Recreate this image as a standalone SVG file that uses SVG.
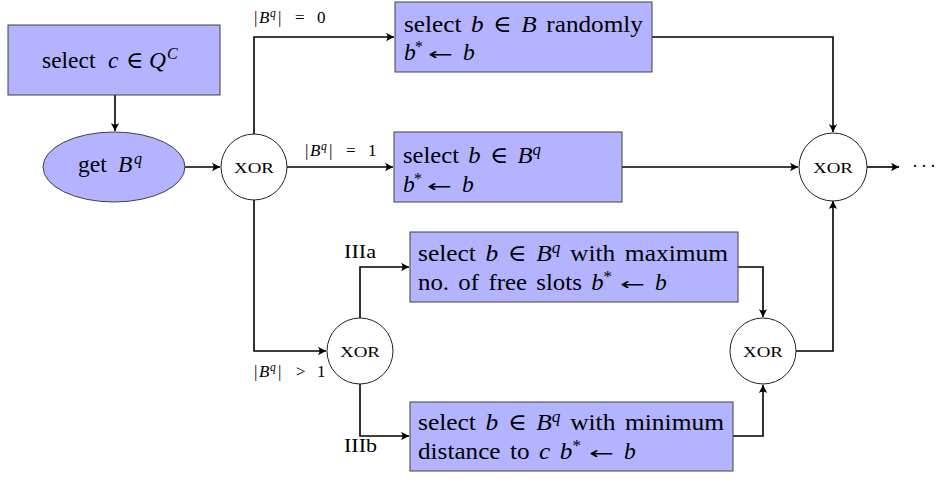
<svg xmlns="http://www.w3.org/2000/svg" width="939" height="479" viewBox="0 0 939 479" font-family="'Liberation Serif', 'DejaVu Serif', serif">
<defs>
<marker id="arr" markerUnits="userSpaceOnUse" markerWidth="12" markerHeight="12" viewBox="-9 -6 12 12" refX="0" refY="0" orient="auto">
<path d="M0,0 L-8,-4.2 Q-5,0 -8,4.2 Z" fill="#000"/>
</marker>
</defs>
<style>
.box{fill:#b3b3ff;stroke:#404040;stroke-width:1}
.xor{fill:#fff;stroke:#202020;stroke-width:1}
.c{fill:none;stroke:#000;stroke-width:1.6}
.a{marker-end:url(#arr)}
text{font-family:'Liberation Serif','DejaVu Serif',serif;fill:#000}
.t{font-size:23.5px;word-spacing:3px}
.l{font-size:17px}
.x{font-size:15px;text-anchor:middle}
.m{font-style:italic}
.s{font-size:16px}
.ls{font-size:11.5px;font-style:italic}
text.ar{font-family:'DejaVu Sans',sans-serif;font-size:17px}
</style>
<rect width="939" height="479" fill="#fff"/>
<g id="connectors">
<path class="c a" d="M115,95 V131"/>
<path class="c a" d="M185,167 H220"/>
<path class="c a" d="M254,134 V37 H394"/>
<path class="c a" d="M287,167 H393"/>
<path class="c a" d="M254,200 V351 H326"/>
<path class="c a" d="M652,37 H833 V132"/>
<path class="c a" d="M622,167 H798"/>
<path class="c a" d="M867,167 H899"/>
<path class="c a" d="M360,318 V267 H409"/>
<path class="c a" d="M360,384 V436 H409"/>
<path class="c a" d="M738,267 H763 V317"/>
<path class="c a" d="M733,436 H763 V385"/>
<path class="c a" d="M796,351 H833 V201"/>
</g>
<g id="n1">
<rect class="box" x="8" y="25" width="212" height="70"/>
<text class="t" y="68"><tspan x="42">select</tspan><tspan x="108" class="m">c</tspan><tspan x="126">∈</tspan><tspan x="149" class="m">Q</tspan><tspan x="167" dy="-9" class="m s">C</tspan></text>
</g>
<g id="n2">
<ellipse class="box" cx="114" cy="167" rx="71" ry="35"/>
<text class="t" y="172"><tspan x="78">get</tspan><tspan x="118" class="m">B</tspan><tspan x="134" dy="-8" class="m s">q</tspan></text>
</g>
<g id="xor1">
<circle class="xor" cx="254" cy="167" r="33"/>
<text class="x" x="254" y="173" textLength="40" lengthAdjust="spacingAndGlyphs">XOR</text>
</g>
<g id="n3">
<rect class="box" x="395" y="2" width="257" height="70"/>
<text class="t" x="404" y="32" textLength="239" lengthAdjust="spacingAndGlyphs">select <tspan class="m">b</tspan> ∈ <tspan class="m">B</tspan> randomly</text>
<text class="t" y="60"><tspan x="404" class="m">b</tspan><tspan x="415" dy="-8" class="s">*</tspan></text>
<text class="ar" transform="translate(428,60) scale(1.75,1)">←</text>
<text class="t m" x="463" y="60">b</text>
</g>
<g id="n4">
<rect class="box" x="394" y="132" width="228" height="70"/>
<text class="t" x="403" y="163" textLength="138" lengthAdjust="spacingAndGlyphs">select <tspan class="m">b</tspan> ∈ <tspan class="m">B</tspan><tspan class="m s" dy="-8">q</tspan></text>
<text class="t" y="192"><tspan x="403" class="m">b</tspan><tspan x="414" dy="-8" class="s">*</tspan></text>
<text class="ar" transform="translate(427,192) scale(1.75,1)">←</text>
<text class="t m" x="462" y="192">b</text>
</g>
<g id="xor2">
<circle class="xor" cx="833" cy="167" r="34"/>
<text class="x" x="833" y="173" textLength="40" lengthAdjust="spacingAndGlyphs">XOR</text>
</g>
<g id="xor3">
<circle class="xor" cx="360" cy="351" r="33"/>
<text class="x" x="360" y="357" textLength="40" lengthAdjust="spacingAndGlyphs">XOR</text>
</g>
<g id="n5">
<rect class="box" x="410" y="232" width="328" height="70"/>
<text class="t" x="418" y="261" textLength="310" lengthAdjust="spacingAndGlyphs">select <tspan class="m">b</tspan> ∈ <tspan class="m">B</tspan><tspan class="m s" dy="-8">q</tspan><tspan dy="8"> with maximum</tspan></text>
<text class="t" x="418" y="290" textLength="194" lengthAdjust="spacingAndGlyphs">no. of free slots <tspan class="m">b</tspan><tspan class="s" dy="-8">*</tspan></text>
<text class="ar" transform="translate(620,290) scale(1.75,1)">←</text>
<text class="t m" x="655" y="290">b</text>
</g>
<g id="n6">
<rect class="box" x="410" y="402" width="323" height="69"/>
<text class="t" x="418" y="430" textLength="306" lengthAdjust="spacingAndGlyphs">select <tspan class="m">b</tspan> ∈ <tspan class="m">B</tspan><tspan class="m s" dy="-8">q</tspan><tspan dy="8"> with minimum</tspan></text>
<text class="t" x="418" y="459" textLength="163" lengthAdjust="spacingAndGlyphs">distance to <tspan class="m">c</tspan> <tspan class="m">b</tspan><tspan class="s" dy="-8">*</tspan></text>
<text class="ar" transform="translate(589,459) scale(1.75,1)">←</text>
<text class="t m" x="624" y="459">b</text>
</g>
<g id="xor4">
<circle class="xor" cx="763" cy="351" r="33"/>
<text class="x" x="763" y="357" textLength="40" lengthAdjust="spacingAndGlyphs">XOR</text>
</g>
<g id="labels">
<text class="l" y="23"><tspan x="254">|</tspan><tspan x="259" class="m">B</tspan><tspan x="270" dy="-6" class="ls">q</tspan><tspan x="278" dy="6">|</tspan><tspan x="295">=</tspan><tspan x="317">0</tspan></text>
<text class="l" y="156"><tspan x="305">|</tspan><tspan x="310" class="m">B</tspan><tspan x="321" dy="-6" class="ls">q</tspan><tspan x="329" dy="6">|</tspan><tspan x="346">=</tspan><tspan x="368">1</tspan></text>
<text class="l" y="377"><tspan x="254">|</tspan><tspan x="259" class="m">B</tspan><tspan x="270" dy="-6" class="ls">q</tspan><tspan x="278" dy="6">|</tspan><tspan x="296">&gt;</tspan><tspan x="317">1</tspan></text>
<text x="344" y="258" font-size="18" textLength="32" lengthAdjust="spacingAndGlyphs">IIIa</text>
<text x="344" y="452" font-size="18" textLength="33" lengthAdjust="spacingAndGlyphs">IIIb</text>
<text x="912" y="172" font-size="18" textLength="24" lengthAdjust="spacing">· · ·</text>
</g>
</svg>
